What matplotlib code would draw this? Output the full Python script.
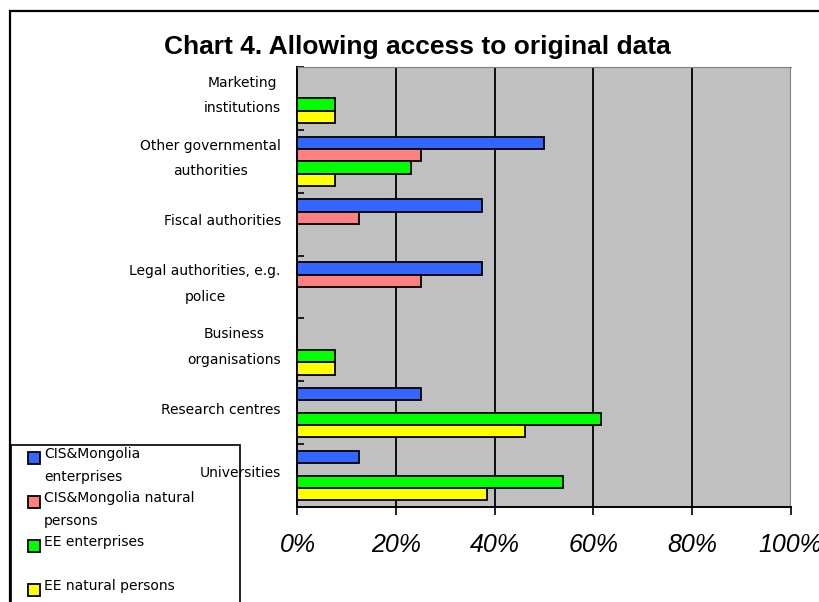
import numpy as np
import matplotlib
matplotlib.use('Agg')
import matplotlib.pyplot as plt
from matplotlib.patches import Rectangle
from matplotlib.ticker import FuncFormatter
from matplotlib.transforms import ScaledTranslation

# Data (share of respondents, %)
categories = ['Marketing\ninstitutions', 'Other governmental\nauthorities',
              'Fiscal authorities', 'Legal authorities, e.g.\npolice',
              'Business\norganisations', 'Research centres', 'Universities']
series_names = ['CIS&Mongolia\nenterprises', 'CIS&Mongolia natural\npersons',
                'EE enterprises', 'EE natural persons']
cis_enterprises = [0, 50.0, 37.5, 37.5, 0, 25.0, 12.5]
cis_natural = [0, 25.0, 12.5, 25.0, 0, 0, 0]
ee_enterprises = [7.7, 23.1, 0, 0, 7.7, 61.5, 53.8]
ee_natural = [7.7, 7.7, 0, 0, 7.7, 46.2, 38.5]
xticks = [0, 20, 40, 60, 80, 100]

colors = ['#3366FF', '#FF8080', '#00FF00', '#FFFF00']
all_series = [cis_enterprises, cis_natural, ee_enterprises, ee_natural]

W, H = 820, 602
fig = plt.figure(figsize=(W / 100, H / 100), dpi=100)

# outer chart frame (runs off the right/bottom edge)
fig.patches.append(Rectangle((10.5 / W, -0.1), 1.2, (H - 11) / H + 0.1,
                             transform=fig.transFigure, fill=False,
                             edgecolor='black', linewidth=1.6))

left, right, top, bottom = 297.5, 790.5, 67, 507
ax = fig.add_axes([left / W, (H - bottom) / H, (right - left) / W, (bottom - top) / H])
ax.set_facecolor('#C0C0C0')

y = np.arange(len(categories))
h = 0.197
for j, vals in enumerate(all_series):
    vals = np.array(vals, dtype=float)
    mask = vals > 0
    ax.barh(y[mask] + (j - 1.5) * h, vals[mask], height=h, color=colors[j],
            edgecolor='black', linewidth=1.3, zorder=3)

ax.set_xlim(0, 100)
ax.set_ylim(len(categories) - 0.5, -0.5)

# x axis
ax.set_xticks(xticks)
ax.xaxis.set_major_formatter(FuncFormatter(lambda v, p: '%d%%' % v))
ax.tick_params(axis='x', direction='out', length=6, width=1.2, pad=13)
for lab in ax.get_xticklabels():
    lab.set_fontfamily('Liberation Sans')
    lab.set_fontstyle('italic')
    lab.set_fontsize(18)
ax.grid(axis='x', color='black', linewidth=1.3, zorder=1)
gl = ax.get_xgridlines()
gl[0].set_visible(False)
gl[-1].set_visible(False)

# y axis
ax.set_yticks(y)
ax.set_yticklabels(categories)
ax.set_yticks(np.arange(len(categories) + 1) - 0.5, minor=True)
ax.tick_params(axis='y', which='major', length=0, pad=12)
ax.tick_params(axis='y', which='minor', direction='in', length=5, width=1.2)
shift = ScaledTranslation(0, 3 / 100, fig.dpi_scale_trans)
for lab in ax.get_yticklabels():
    lab.set_fontfamily('DejaVu Sans')
    lab.set_fontsize(10)
    lab.set_multialignment('center')
    lab.set_linespacing(2.05)
    lab.set_verticalalignment('center')
    lab.set_transform(lab.get_transform() + shift)

ax.spines['left'].set_linewidth(1.4)
ax.spines['bottom'].set_linewidth(1.4)
ax.spines['top'].set_color('#808080')
ax.spines['right'].set_color('#808080')

fig.text(417 / W, 1 - 47 / H, 'Chart 4. Allowing access to original data',
         ha='center', va='center', fontsize=19, fontweight='bold',
         fontfamily='Liberation Sans')

# legend box (Excel style, clipped by the figure)
fig.patches.append(Rectangle((11 / W, -0.1), 229 / W, (H - 445) / H + 0.1,
                             transform=fig.transFigure, fill=False,
                             edgecolor='black', linewidth=1.2))
for j, name in enumerate(series_names):
    ytop = 452 + 44 * j
    fig.patches.append(Rectangle((28 / W, 1 - (ytop + 12) / H), 12 / W, 12 / H,
                                 transform=fig.transFigure, facecolor=colors[j],
                                 edgecolor='black', linewidth=1.3))
    fig.text(44 / W, 1 - (ytop - 5) / H, name, ha='left', va='top',
             fontsize=10, fontfamily='DejaVu Sans', linespacing=1.85)

fig.savefig('out.png', dpi=100)
